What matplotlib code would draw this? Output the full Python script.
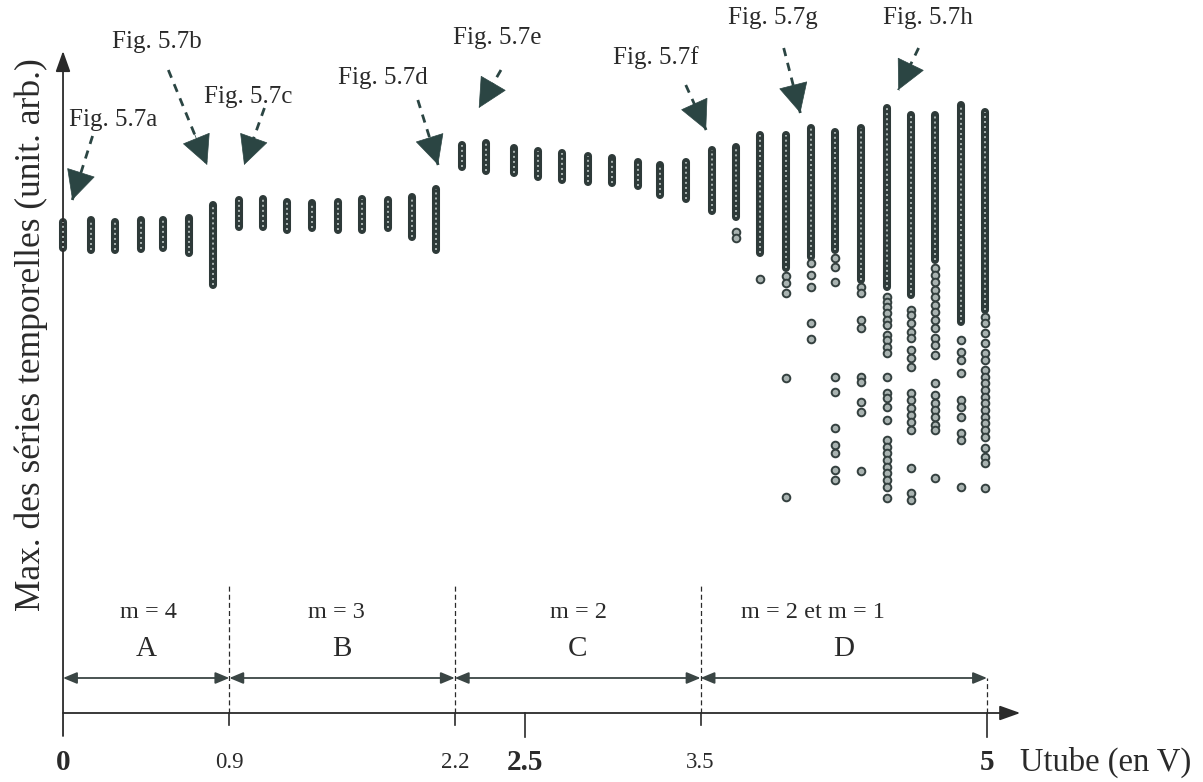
import matplotlib
matplotlib.use("Agg")
import matplotlib.pyplot as plt

plt.rcParams['font.family'] = ['Liberation Serif', 'DejaVu Serif']

# tube voltage of each measured column (V)
u_col = [0.00, 0.15, 0.28, 0.42, 0.54, 0.68, 0.81, 0.95, 1.08, 1.21,
         1.35, 1.49, 1.62, 1.76, 1.89, 2.02, 2.16, 2.29, 2.44, 2.57,
         2.70, 2.84, 2.97, 3.11, 3.23, 3.37, 3.51, 3.64, 3.77, 3.91,
         4.05, 4.18, 4.32, 4.46, 4.59, 4.72, 4.86, 4.99]
# dense band of maxima for each column (arb. units)
band_top = [4.91, 4.93, 4.91, 4.93, 4.93, 4.95, 5.08, 5.13, 5.14, 5.11,
            5.10, 5.11, 5.14, 5.13, 5.16, 5.24, 5.68, 5.70, 5.65, 5.62,
            5.60, 5.57, 5.55, 5.51, 5.48, 5.51, 5.63, 5.66, 5.78, 5.78,
            5.85, 5.81, 5.85, 6.05, 5.98, 5.98, 6.08, 6.01]
band_bot = [4.65, 4.63, 4.63, 4.64, 4.65, 4.60, 4.28, 4.86, 4.86, 4.83,
            4.85, 4.83, 4.83, 4.85, 4.76, 4.63, 5.46, 5.42, 5.40, 5.36,
            5.33, 5.31, 5.30, 5.27, 5.18, 5.14, 5.02, 4.96, 4.60, 4.45,
            4.56, 4.63, 4.33, 4.26, 4.18, 4.53, 3.91, 4.03]

# isolated maxima in zone D
pts_364 = [4.81, 4.75]
pts_377 = [4.34]
pts_391 = [4.37, 4.30, 4.20, 3.35, 2.16]
pts_405 = [4.50, 4.38, 4.26, 3.90, 3.74]
pts_418 = [4.55, 4.46, 4.31, 3.36, 3.21, 2.85, 2.68, 2.60, 2.43, 2.33]
pts_432 = [4.26, 4.20, 3.93, 3.85, 3.36, 3.31, 3.11, 3.01, 2.42]
pts_446 = [4.16, 4.11, 4.06, 4.00, 3.93, 3.88, 3.78, 3.73, 3.66, 3.60,
           3.36, 3.20, 3.15, 3.06, 2.93, 2.73, 2.66, 2.60, 2.53, 2.46,
           2.40, 2.33, 2.26, 2.15]
pts_459 = [4.03, 3.98, 3.90, 3.81, 3.75, 3.63, 3.55, 3.46, 3.20, 3.13,
           3.05, 2.98, 2.91, 2.83, 2.45, 2.20, 2.13]
pts_472 = [4.45, 4.38, 4.31, 4.23, 4.16, 4.08, 4.01, 3.93, 3.85, 3.75,
           3.68, 3.58, 3.30, 3.18, 3.10, 3.03, 2.96, 2.88, 2.83, 2.35]
pts_486 = [3.73, 3.61, 3.53, 3.40, 3.13, 3.06, 2.96, 2.80, 2.73, 2.26]
pts_499 = [3.96, 3.90, 3.80, 3.70, 3.60, 3.53, 3.43, 3.36, 3.30, 3.23,
           3.16, 3.10, 3.03, 2.96, 2.90, 2.83, 2.76, 2.65, 2.56, 2.50, 2.25]
scatter_u = [3.64, 3.77, 3.91, 4.05, 4.18, 4.32, 4.46, 4.59, 4.72, 4.86, 4.99]
scatter_y = [pts_364, pts_377, pts_391, pts_405, pts_418, pts_432,
             pts_446, pts_459, pts_472, pts_486, pts_499]

# zones
zone_letters = ['A', 'B', 'C', 'D']
zone_modes = ['m = 4', 'm = 3', 'm = 2', 'm = 2 et m = 1']
zone_edges = [0.0, 0.9, 2.12, 3.45, 5.0]
tick_labels = ['0', '0.9', '2.2', '2.5', '3.5', '5']
tick_pos = [0.0, 0.9, 2.12, 2.5, 3.45, 5.0]
tick_bold = [True, False, False, True, False, True]

# pointers to the time series figures
fig_names = ['Fig. 5.7a', 'Fig. 5.7b', 'Fig. 5.7c', 'Fig. 5.7d',
             'Fig. 5.7e', 'Fig. 5.7f', 'Fig. 5.7g', 'Fig. 5.7h']

ink = '#2a2a2a'
teal = '#2b4543'

fig = plt.figure(figsize=(12.03, 7.82), dpi=100)
ax = fig.add_axes([0, 0, 1, 1])
ax.set_xlim(-0.341, 6.169)
ax.set_ylim(-0.69, 7.13)
ax.axis('off')

# dense bands
ax.vlines(u_col, band_bot, band_top, colors='#2e3a39', lw=5.8,
          capstyle='round', zorder=3)
ax.vlines(u_col, band_bot, band_top, colors='#aab4b2', lw=1.4,
          linestyles=(0, (1, 1.6)), zorder=4)

# isolated points
for u, ys in zip(scatter_u, scatter_y):
    ax.plot([u] * len(ys), ys, 'o', ms=5.5, mfc='#a9b3b1', mec='#34403f',
            mew=1.4, zorder=3)

# axes with arrows
ax.annotate('', xy=(0, 6.62), xytext=(0, -0.23),
            arrowprops=dict(arrowstyle='-|>,head_length=0.7,head_width=0.25',
                            color=ink, lw=1.3, shrinkA=0, shrinkB=0,
                            mutation_scale=18))
ax.annotate('', xy=(5.18, 0), xytext=(0, 0),
            arrowprops=dict(arrowstyle='-|>,head_length=0.7,head_width=0.25',
                            color=ink, lw=1.3, shrinkA=0, shrinkB=0,
                            mutation_scale=18))

# ticks under the axis
for p, bold in zip(tick_pos[1:], tick_bold[1:]):
    ax.plot([p, p], [0, -0.24 if bold else -0.12], color=ink, lw=1.2)
for p, lab, bold in zip(tick_pos, tick_labels, tick_bold):
    ax.text(p, -0.49, lab, ha='center', va='center', color=ink,
            fontsize=21 if bold else 16.5,
            fontweight='bold' if bold else 'normal')
ax.text(5.18, -0.49, 'Utube (en V)', ha='left', va='center', color=ink,
        fontsize=23.5)

# zone separators and dimension arrows
for e in zone_edges[1:4]:
    ax.plot([e, e], [0, 1.30], color=ink, lw=0.9, ls=(0, (4, 2.5)))
ax.plot([5.0, 5.0], [0, 0.35], color=ink, lw=0.9, ls=(0, (4, 2.5)))
for i in range(4):
    left, right = zone_edges[i], zone_edges[i + 1]
    ax.annotate('', xy=(right, 0.35), xytext=(left, 0.35),
                arrowprops=dict(arrowstyle='<|-|>,head_length=0.6,head_width=0.25',
                                color='#3a4544', lw=1.3, shrinkA=0, shrinkB=0,
                                mutation_scale=14))
    ax.text((left + right) / 2, 0.64, zone_letters[i], ha='center',
            va='center', fontsize=21, color=ink)
mode_x = [0.46, 1.48, 2.79, 4.06]
for mx, lab in zip(mode_x, zone_modes):
    ax.text(mx, 1.01, lab, ha='center', va='center', fontsize=17.5, color=ink)

# y label
ax.text(-0.17, 3.78, 'Max. des séries temporelles (unit. arb.)', rotation=90,
        ha='center', va='center', fontsize=25.5, color=ink)

# figure pointers: label position, arrow tail, arrow tip
label_xy = [(0.27, 5.93), (0.51, 6.71), (1.00, 6.16), (1.73, 6.35),
            (2.35, 6.75), (3.21, 6.55), (3.84, 6.95), (4.68, 6.95)]
tail_xy = [(0.16, 5.77), (0.57, 6.43), (1.09, 6.05), (1.92, 6.13),
           (2.37, 6.43), (3.37, 6.28), (3.90, 6.65), (4.63, 6.65)]
tip_xy = [(0.05, 5.13), (0.78, 5.48), (0.98, 5.48), (2.03, 5.48),
          (2.25, 6.05), (3.48, 5.83), (3.99, 6.00), (4.52, 6.23)]
for name, (tx, ty), (ax0, ay0), (ax1, ay1) in zip(fig_names, label_xy,
                                                   tail_xy, tip_xy):
    ax.text(tx, ty, name, ha='center', va='center', fontsize=18, color=ink)
    ax.plot([ax0, ax1], [ay0, ay1], color=teal, lw=2, ls=(0, (3, 2.5)))
    hx, hy = ax1 + 0.4 * (ax0 - ax1), ay1 + 0.4 * (ay0 - ay1)
    ax.annotate('', xy=(ax1, ay1), xytext=(hx, hy),
                arrowprops=dict(arrowstyle='-|>,head_length=1.0,head_width=0.5',
                                color=teal, lw=0.5, shrinkA=0, shrinkB=0,
                                mutation_scale=20))

fig.savefig('out.png', dpi=100)
